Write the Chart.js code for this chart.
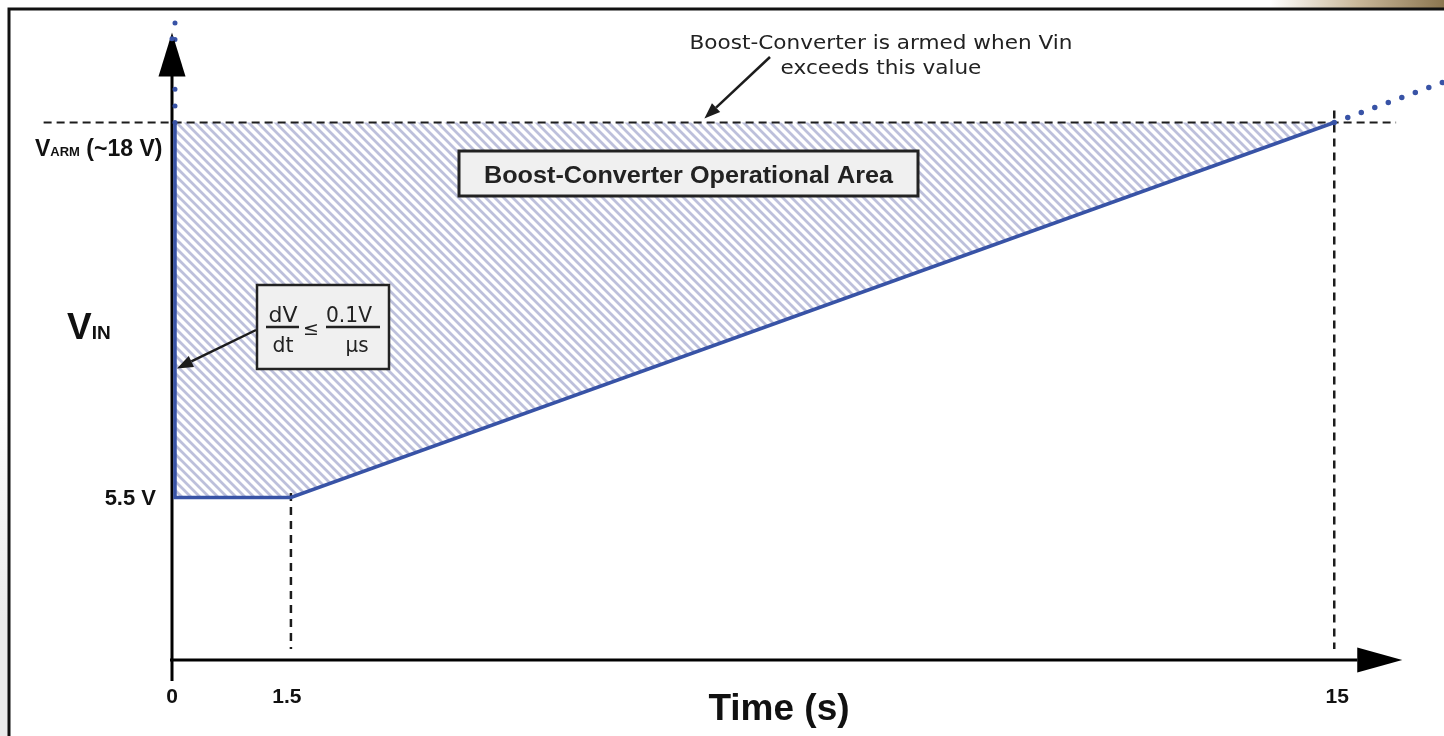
<!DOCTYPE html>
<html>
<head>
<meta charset="utf-8">
<script src="https://cdn.jsdelivr.net/npm/chart.js@4.4.1/dist/chart.umd.min.js"></script>
<style>
  html, body { margin: 0; background: #fff; }
  canvas { display: block; }
</style>
</head>
<body>
<canvas id="diagram" width="1444" height="736"></canvas>
<script>
// input voltage profile: time (s) / voltage (V)
const riseTime = [0, 0, 1.5, 15];
const riseVolts = [18, 5.5, 5.5, 18];
// dotted continuation above the arming voltage
const beyondTime = [15, 16.42];
const beyondVolts = [18, 19.35];
const upTime = [0, 0];
const upVolts = [18, 21.4];
// operational area, filled up to V_ARM
const areaTime = [0, 1.5, 15];
const areaVolts = [5.5, 5.5, 18];
// dashed guides
const armGuideTime = [-1.7, 15.8];
const armGuideVolts = [18, 18];
const kneeGuideTime = [1.5, 1.5];
const kneeGuideVolts = [5.65, 0.45];
const endGuideTime = [15, 15];
const endGuideVolts = [18.4, 0.45];

const vArm = 18;
const vMin = 5.5;
const xTicks = [0, 1.5, 15];
const xTickLabels = ['0', '1.5', '15'];

const BLUE = '#3853a6';
const INK = '#1c1c1c';

const pts = (xs, ys) => xs.map((x, i) => ({ x: x, y: ys[i] }));

function hatch() {
    const s = 9;
    const c = document.createElement('canvas');
    c.width = s; c.height = s;
    const g = c.getContext('2d');
    g.strokeStyle = '#bdc0db';
    g.lineWidth = 2.8;
    g.beginPath();
    g.moveTo(-1, -1); g.lineTo(s + 1, s + 1);
    g.moveTo(-1, s - 1); g.lineTo(1, s + 1);
    g.moveTo(s - 1, -1); g.lineTo(s + 1, 1);
    g.stroke();
    return g.createPattern(c, 'repeat');
}

function arrow(ctx, x1, y1, x2, y2) {
    const a = Math.atan2(y2 - y1, x2 - x1);
    const L = 16, W = 6;
    const bx = x2 - L * Math.cos(a), by = y2 - L * Math.sin(a);
    ctx.save();
    ctx.strokeStyle = INK; ctx.fillStyle = INK; ctx.lineWidth = 2.5;
    ctx.beginPath(); ctx.moveTo(x1, y1); ctx.lineTo(bx, by); ctx.stroke();
    ctx.beginPath();
    ctx.moveTo(x2, y2);
    ctx.lineTo(bx + W * Math.sin(a), by - W * Math.cos(a));
    ctx.lineTo(bx - W * Math.sin(a), by + W * Math.cos(a));
    ctx.closePath(); ctx.fill();
    ctx.restore();
}

// draw text squeezed/stretched to a given width (keeps height)
function fitText(ctx, str, x, y, font, width, align) {
    ctx.save();
    ctx.font = font;
    const m = ctx.measureText(str).width;
    const k = width ? width / m : 1;
    ctx.translate(x, y);
    ctx.scale(k, 1);
    ctx.textAlign = align || 'center';
    ctx.textBaseline = 'alphabetic';
    ctx.fillText(str, 0, 0);
    ctx.restore();
    return k;
}

const decorations = {
    id: 'decorations',
    beforeDraw(chart) {
        const ctx = chart.ctx;
        ctx.save();
        ctx.fillStyle = '#fff';
        ctx.fillRect(0, 0, chart.width, chart.height);
        // bits of the page around the frame
        let g = ctx.createLinearGradient(0, 380, 0, 620);
        g.addColorStop(0, '#ffffff');
        g.addColorStop(1, '#ebebeb');
        ctx.fillStyle = g;
        ctx.fillRect(0, 380, 8, 356);
        g = ctx.createLinearGradient(1270, 0, 1444, 0);
        g.addColorStop(0, '#ffffff');
        g.addColorStop(0.5, '#c9b89a');
        g.addColorStop(1, '#8c7650');
        ctx.fillStyle = g;
        ctx.fillRect(1270, 0, 174, 8);
        // frame
        ctx.strokeStyle = '#111';
        ctx.lineWidth = 3;
        ctx.beginPath();
        ctx.moveTo(9, 736); ctx.lineTo(9, 9); ctx.lineTo(1444, 9);
        ctx.stroke();
        ctx.restore();
    },
    beforeDatasetsDraw(chart) {
        const ctx = chart.ctx;
        const xs = chart.scales.x, ys = chart.scales.y;
        const ax = xs.getPixelForValue(0) - 3;
        const ay = ys.getPixelForValue(0) - 2.5;
        ctx.save();
        ctx.strokeStyle = '#000';
        ctx.lineWidth = 3;
        ctx.beginPath();
        ctx.moveTo(ax, ay + 21); ctx.lineTo(ax, ys.getPixelForValue(19.6));
        ctx.moveTo(ax - 2, ay); ctx.lineTo(xs.getPixelForValue(15.3), ay);
        ctx.stroke();
        ctx.restore();
    },
    afterDatasetsDraw(chart) {
        const ctx = chart.ctx;
        const xs = chart.scales.x, ys = chart.scales.y;
        const ax = xs.getPixelForValue(0) - 3;
        const ay = ys.getPixelForValue(0) - 2.5;
        ctx.save();
        // axis arrowheads
        ctx.fillStyle = '#000';
        const ty = ys.getPixelForValue(21);
        ctx.beginPath();
        ctx.moveTo(ax, ty); ctx.lineTo(ax - 13.5, ty + 44); ctx.lineTo(ax + 13.5, ty + 44);
        ctx.closePath(); ctx.fill();
        const tx = xs.getPixelForValue(15.88);
        ctx.beginPath();
        ctx.moveTo(tx, ay); ctx.lineTo(tx - 45, ay - 12.5); ctx.lineTo(tx - 45, ay + 12.5);
        ctx.closePath(); ctx.fill();
        // the top dot sits over the arrow tip
        ctx.fillStyle = BLUE;
        ctx.beginPath(); ctx.arc(ax, ys.getPixelForValue(20.79), 2.5, 0, Math.PI * 2); ctx.fill();

        // tick labels
        ctx.fillStyle = '#111';
        ctx.font = 'bold 21px "Liberation Sans", Arial, sans-serif';
        ctx.textAlign = 'center';
        xTicks.forEach((v, i) => {
            const px = i === 0 ? ax : xs.getPixelForValue(v) + (i === 1 ? -4 : 3);
            ctx.fillText(xTickLabels[i], px, 703);
        });
        ctx.font = 'bold 22px "Liberation Sans", Arial, sans-serif';
        ctx.textAlign = 'right';
        ctx.fillText(vMin + ' V', 156, ys.getPixelForValue(vMin) + 7);

        // V_ARM label
        const by = ys.getPixelForValue(vArm) + 33;
        ctx.textAlign = 'left';
        let x = 35;
        ctx.font = 'bold 23px "Liberation Sans", Arial, sans-serif';
        ctx.fillText('V', x, by); x += ctx.measureText('V').width;
        ctx.font = 'bold 13px "Liberation Sans", Arial, sans-serif';
        ctx.fillText('ARM', x, by); x += ctx.measureText('ARM').width;
        ctx.font = 'bold 23px "Liberation Sans", Arial, sans-serif';
        ctx.fillText(' (~18 V)', x, by);

        // V_IN axis title
        x = 67;
        ctx.font = 'bold 37px "Liberation Sans", Arial, sans-serif';
        ctx.fillText('V', x, 339); x += ctx.measureText('V').width;
        ctx.font = 'bold 19px "Liberation Sans", Arial, sans-serif';
        ctx.fillText('IN', x, 339);

        // x axis title
        ctx.font = 'bold 37px "Liberation Sans", Arial, sans-serif';
        ctx.textAlign = 'center';
        ctx.fillText('Time (s)', 779, 720);

        // arming note
        ctx.fillStyle = '#222';
        const k = fitText(ctx, 'Boost-Converter is armed when Vin', 881, 49,
            '20px "DejaVu Sans", Verdana, sans-serif', 383);
        ctx.save();
        ctx.font = '20px "DejaVu Sans", Verdana, sans-serif';
        const w2 = ctx.measureText('exceeds this value').width * k;
        ctx.restore();
        fitText(ctx, 'exceeds this value', 881, 74, '20px "DejaVu Sans", Verdana, sans-serif', w2);
        arrow(ctx, 770, 57, xs.getPixelForValue(6.85), ys.getPixelForValue(vArm) - 4);

        // operational area box
        ctx.fillStyle = '#f0f0f0';
        ctx.fillRect(459, 151, 459, 45);
        ctx.strokeStyle = '#222';
        ctx.lineWidth = 3;
        ctx.strokeRect(459, 151, 459, 45);
        ctx.fillStyle = '#222';
        fitText(ctx, 'Boost-Converter Operational Area', 688.5, 183,
            'bold 23px "Liberation Sans", Arial, sans-serif', 409);

        // slew-rate box
        ctx.fillStyle = '#f0f0f0';
        ctx.fillRect(257, 285, 132, 84);
        ctx.lineWidth = 2.5;
        ctx.strokeRect(257, 285, 132, 84);
        ctx.fillStyle = '#222';
        const f = '21px "DejaVu Sans", Verdana, sans-serif';
        fitText(ctx, 'dV', 283, 322, f, 29);
        fitText(ctx, 'dt', 283, 352, f, 21);
        fitText(ctx, '0.1V', 349, 322, f, 46);
        fitText(ctx, 'µs', 357, 352, f, 23);
        fitText(ctx, '≤', 311, 335, '19px "DejaVu Sans", sans-serif');
        ctx.lineWidth = 2.5;
        ctx.beginPath();
        ctx.moveTo(266, 327); ctx.lineTo(299, 327);
        ctx.moveTo(326, 327); ctx.lineTo(380, 327);
        ctx.stroke();
        arrow(ctx, 256, 330, xs.getPixelForValue(0) + 2, ys.getPixelForValue(9.8));
        ctx.restore();
    }
};

const diagram = document.getElementById('diagram').getContext('2d');
const dashed = { borderColor: INK, borderWidth: 2, borderDash: [8, 5], pointRadius: 0, fill: false, clip: false };

const myChart = new Chart(diagram, {
    type: 'scatter',
    data: {
        datasets: [
            { label: 'Vin', data: pts(riseTime, riseVolts), showLine: true, borderColor: BLUE, borderWidth: 3.5,
              pointRadius: 0, fill: false, clip: false, borderJoinStyle: 'miter' },
            { label: 'beyond', data: pts(beyondTime, beyondVolts), showLine: true, borderColor: BLUE, borderWidth: 5.5,
              borderDash: [0, 14.4], borderCapStyle: 'round', pointRadius: 0, fill: false, clip: false },
            { label: 'up', data: pts(upTime, upVolts), showLine: true, borderColor: BLUE, borderWidth: 5,
              borderDash: [0, 16.6], borderCapStyle: 'round', pointRadius: 0, fill: false, clip: false },
            Object.assign({ label: 'armGuide', data: pts(armGuideTime, armGuideVolts), showLine: true }, dashed),
            Object.assign({ label: 'kneeGuide', data: pts(kneeGuideTime, kneeGuideVolts), showLine: true }, dashed, { borderWidth: 2.5, borderDash: [8, 6] }),
            Object.assign({ label: 'endGuide', data: pts(endGuideTime, endGuideVolts), showLine: true }, dashed, { borderWidth: 2.5, borderDash: [8, 6] }),
            { label: 'area', data: pts(areaTime, areaVolts), showLine: true, borderWidth: 0, pointRadius: 0,
              backgroundColor: hatch(), fill: { value: vArm }, clip: false }
        ]
    },
    options: {
        responsive: false,
        animation: false,
        events: [],
        layout: { padding: { left: 175, right: 0, top: 2.5, bottom: 73.5 } },
        scales: {
            x: { type: 'linear', min: 0, max: 16.42, display: false },
            y: { type: 'linear', min: 0, max: 22, display: false }
        },
        plugins: {
            legend: { display: false },
            tooltip: { enabled: false }
        }
    },
    plugins: [decorations]
});
</script>
</body>
</html>
